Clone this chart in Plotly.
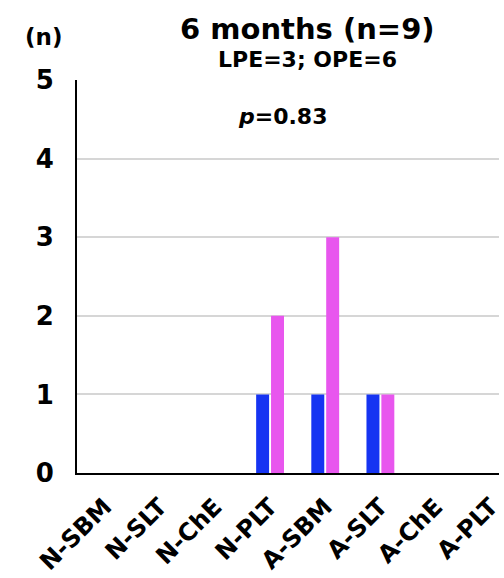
import plotly.graph_objects as go

# Patient counts per category at 6 months
categories = ["N-SBM", "N-SLT", "N-ChE", "N-PLT", "A-SBM", "A-SLT", "A-ChE", "A-PLT"]
lpe_counts = [0, 0, 0, 1, 1, 1, 0, 0]
ope_counts = [0, 0, 0, 2, 3, 1, 0, 0]
y_ticks = [0, 1, 2, 3, 4, 5]

FONT = "DejaVu Sans, Liberation Sans, Arial, sans-serif"
BLUE = "#1634F2"
MAGENTA = "#E856EE"

fig = go.Figure()
fig.add_trace(go.Bar(name="LPE", x=categories, y=lpe_counts,
                     marker=dict(color=BLUE, line=dict(width=0))))
fig.add_trace(go.Bar(name="OPE", x=categories, y=ope_counts,
                     marker=dict(color=MAGENTA, line=dict(width=0))))

fig.update_layout(
    width=504, height=578,
    margin=dict(l=77, r=0, t=80, b=105),
    paper_bgcolor="white", plot_bgcolor="white",
    barmode="group", bargap=0.46, bargroupgap=0.13,
    showlegend=False,
    font=dict(family=FONT, color="black"),
)

fig.update_xaxes(
    type="category", categoryorder="array", categoryarray=categories,
    range=[-0.5, 7.15],
    showline=True, linecolor="black", linewidth=2,
    showgrid=False, ticks="", tickangle=-45,
    tickfont=dict(family=FONT, size=24, color="black", weight="bold"),
    ticklabelstandoff=8,
)
fig.update_yaxes(
    range=[0, 5], tickvals=y_ticks, ticktext=[f"<b>{v}</b>" for v in y_ticks],
    showline=True, linecolor="black", linewidth=2,
    showgrid=True, gridcolor="#d6d6d6", gridwidth=1.5,
    zeroline=False, ticks="",
    tickfont=dict(family=FONT, size=26, color="black"),
    ticklabelstandoff=16,
)

fig.add_annotation(text="<b>6 months (n=9)</b>", xref="paper", yref="paper",
                   x=0.546, y=1, xanchor="center", yanchor="middle", yshift=51,
                   showarrow=False, font=dict(family=FONT, size=29, color="black"))
fig.add_annotation(text="<b>LPE=3; OPE=6</b>", xref="paper", yref="paper",
                   x=0.546, y=1, xanchor="center", yanchor="middle", yshift=21,
                   showarrow=False, font=dict(family=FONT, size=22, color="black"))
fig.add_annotation(text="<b>(n)</b>", xref="paper", yref="paper",
                   x=-0.08, y=1, xanchor="center", yanchor="middle", yshift=43,
                   showarrow=False, font=dict(family=FONT, size=23, color="black"))
fig.add_annotation(text="<b><i>p</i>=0.83</b>", xref="x", yref="y",
                   x=3.23, y=4.53, xanchor="center", yanchor="middle",
                   showarrow=False, font=dict(family=FONT, size=22, color="black"))

fig.write_html("out.html")
